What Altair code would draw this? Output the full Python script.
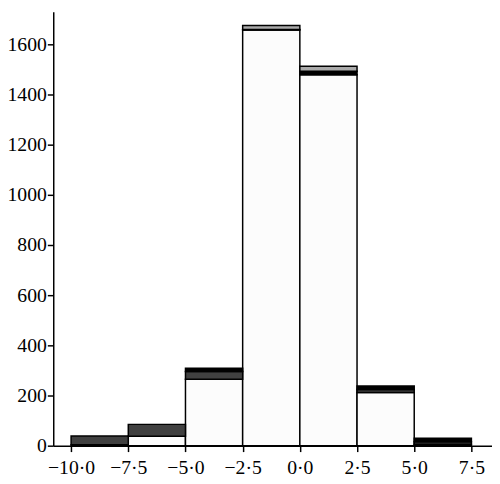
import altair as alt
import pandas as pd

bin_starts = [-10.0, -7.5, -5.0, -2.5, 0.0, 2.5, 5.0]
bin_width = 2.5
layers = ["A", "B", "C", "D"]
layer_colors = ["#fcfcfc", "#404040", "#000000", "#aaaaaa"]
vals_A = [4, 38, 265, 1657, 1478, 212, 6]
vals_B = [35, 47, 31, 0, 0, 12, 10]
vals_C = [0, 0, 13, 2, 14, 14, 14]
vals_D = [0, 0, 0, 16, 20, 0, 0]
x_ticks = [-10.0, -7.5, -5.0, -2.5, 0.0, 2.5, 5.0, 7.5]
y_ticks = [0, 200, 400, 600, 800, 1000, 1200, 1400, 1600]

rows = []
base = [0] * len(bin_starts)
for li, (name, vals) in enumerate(zip(layers, [vals_A, vals_B, vals_C, vals_D])):
    for i, (s, v) in enumerate(zip(bin_starts, vals)):
        if v > 0:
            rows.append({"start": s, "end": s + bin_width, "layer": name,
                         "y0": base[i], "y1": base[i] + v})
        base[i] += v
df = pd.DataFrame(rows)

font = "Liberation Serif"
common = dict(grid=False, domainColor="black", domainWidth=1.5, tickColor="black",
              tickWidth=1.5, tickSize=6, labelFont=font, labelFontSize=20,
              labelColor="black", title=None)

chart = alt.Chart(df).mark_rect(stroke="black", strokeWidth=1.5).encode(
    x=alt.X("start:Q", scale=alt.Scale(domain=[-10.78, 8.40], nice=False, zero=False),
            axis=alt.Axis(values=x_ticks, labelPadding=6, labelFlush=False,
                          labelExpr="replace(replace(format(datum.value, '.1f'), '-', '\u2212'), '.', '\u00b7')",
                          **common)),
    x2="end:Q",
    y=alt.Y("y0:Q", scale=alt.Scale(domain=[0, 1729], nice=False),
            axis=alt.Axis(values=y_ticks, format="d", labelPadding=1, **common)),
    y2="y1:Q",
    color=alt.Color("layer:N", scale=alt.Scale(domain=layers, range=layer_colors), legend=None),
).properties(
    width=446, height=441,
    autosize=alt.AutoSizeParams(type="none"),
    padding={"left": 46, "top": 0, "right": 0, "bottom": 34},
).configure_view(stroke=None)

chart.save("out.html", embed_options={"renderer": "svg", "actions": False})
